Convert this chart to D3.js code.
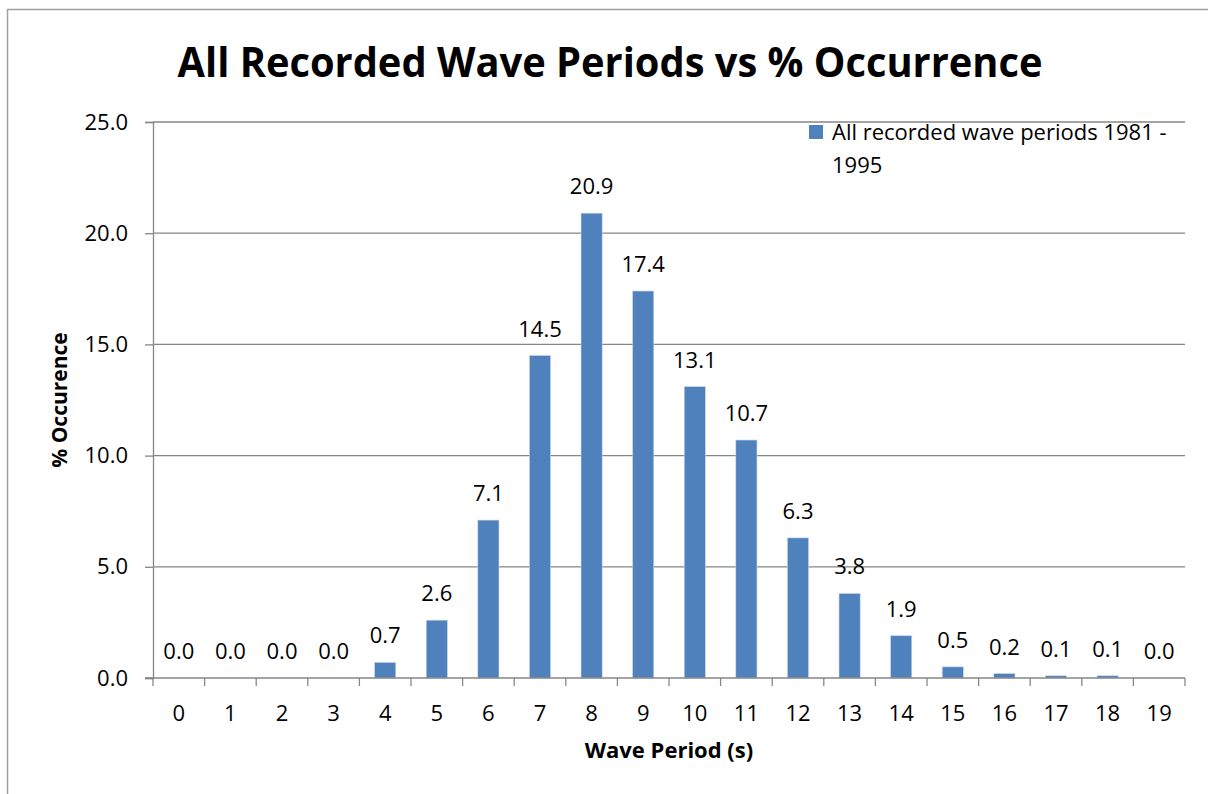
<!DOCTYPE html>
<html>
<head>
<meta charset="utf-8">
<script src="https://cdn.jsdelivr.net/npm/d3@7"></script>
<style>
  body { margin: 0; background: #fff; }
  text { font-family: "Open Sans", sans-serif; fill: #000; }
</style>
</head>
<body>
<div id="content"></div>
<script>
// Données
var periods = [0, 1, 2, 3, 4, 5, 6, 7, 8, 9, 10, 11, 12, 13, 14, 15, 16, 17, 18, 19];
var occurrence = [0.0, 0.0, 0.0, 0.0, 0.7, 2.6, 7.1, 14.5, 20.9, 17.4, 13.1, 10.7, 6.3, 3.8, 1.9, 0.5, 0.2, 0.1, 0.1, 0.0];
var yTicks = [0, 5, 10, 15, 20, 25];
var seriesName = ["All recorded wave periods 1981 -", "1995"];
var title = "All Recorded Wave Periods vs % Occurrence";

var width = 1208, height = 794;
var plotLeft = 153, plotRight = 1185, plotTop = 122, plotBottom = 678;
var barColor = "#4F81BD", axisColor = "#868686";
var fontSize = "22px";

var svg = d3.select("#content").append("svg")
    .attr("width", width)
    .attr("height", height);

// cadre extérieur
svg.append("rect")
    .attr("x", 7.5).attr("y", 9.5)
    .attr("width", 1220).attr("height", 800)
    .attr("fill", "none")
    .attr("stroke", "#a0a0a0")
    .attr("stroke-width", 1.5);

var x = d3.scaleBand()
    .domain(periods)
    .range([plotLeft, plotRight])
    .paddingInner(0.59)
    .paddingOuter(0.295);

var y = d3.scaleLinear()
    .domain([0, 25])
    .range([plotBottom, plotTop]);

// grille
svg.append("g")
  .selectAll("line")
    .data(yTicks.filter(d => d > 0))
  .join("line")
    .attr("x1", plotLeft).attr("x2", plotRight)
    .attr("y1", d => y(d)).attr("y2", d => y(d))
    .attr("stroke", axisColor)
    .attr("stroke-width", 1.3);

// axe y
var yAxis = svg.append("g")
    .attr("transform", "translate(" + plotLeft + ",0)")
    .call(d3.axisLeft(y).tickValues(yTicks).tickSize(8).tickPadding(17).tickFormat(d3.format(".1f")));
yAxis.select(".domain").attr("stroke", axisColor).attr("stroke-width", 1.3);
yAxis.selectAll(".tick line").attr("stroke", axisColor).attr("stroke-width", 1.3);
yAxis.selectAll("text")
    .style("font-family", "Open Sans")
    .style("font-size", fontSize)
    .attr("fill", "#000");

// barres
svg.append("g")
  .selectAll("rect")
    .data(periods)
  .join("rect")
    .attr("x", (d, i) => x(d))
    .attr("width", x.bandwidth())
    .attr("y", (d, i) => y(occurrence[i]))
    .attr("height", (d, i) => y(0) - y(occurrence[i]))
    .attr("fill", barColor)
    .attr("stroke", "#c9d6ea")
    .attr("stroke-width", 0.6);

// étiquettes de valeurs
svg.append("g")
  .selectAll("text")
    .data(periods)
  .join("text")
    .attr("x", d => x(d) + x.bandwidth() / 2)
    .attr("y", (d, i) => y(occurrence[i]) - 19)
    .attr("text-anchor", "middle")
    .style("font-size", fontSize)
    .text((d, i) => occurrence[i].toFixed(1));

// axe x
var step = (plotRight - plotLeft) / periods.length;
var xAxis = svg.append("g");
xAxis.append("line")
    .attr("x1", plotLeft - 8).attr("x2", plotRight)
    .attr("y1", plotBottom).attr("y2", plotBottom)
    .attr("stroke", axisColor).attr("stroke-width", 1.3);
xAxis.selectAll(".tk")
    .data(d3.range(periods.length + 1))
  .join("line")
    .attr("class", "tk")
    .attr("x1", i => plotLeft + i * step).attr("x2", i => plotLeft + i * step)
    .attr("y1", plotBottom).attr("y2", plotBottom + 8)
    .attr("stroke", axisColor).attr("stroke-width", 1.3);
xAxis.selectAll("text")
    .data(periods)
  .join("text")
    .attr("x", d => x(d) + x.bandwidth() / 2)
    .attr("y", 721)
    .attr("text-anchor", "middle")
    .style("font-size", fontSize)
    .text(d => d);

// titres
svg.append("text")
    .attr("x", 610).attr("y", 77)
    .attr("text-anchor", "middle")
    .attr("textLength", 865)
    .attr("lengthAdjust", "spacingAndGlyphs")
    .style("font-size", "41px")
    .style("font-weight", "bold")
    .text(title);

svg.append("text")
    .attr("x", (plotLeft + plotRight) / 2).attr("y", 758)
    .attr("text-anchor", "middle")
    .style("font-size", fontSize)
    .style("font-weight", "bold")
    .text("Wave Period (s)");

svg.append("text")
    .attr("transform", "translate(67," + (plotTop + plotBottom) / 2 + ") rotate(-90)")
    .attr("text-anchor", "middle")
    .style("font-size", "21px")
    .style("font-weight", "bold")
    .text("% Occurence");

// légende
svg.append("rect")
    .attr("x", 809).attr("y", 125)
    .attr("width", 14).attr("height", 14)
    .attr("fill", barColor);
svg.append("g")
  .selectAll("text")
    .data(seriesName)
  .join("text")
    .attr("x", 832)
    .attr("y", (d, i) => 140 + i * 33)
    .style("font-size", fontSize)
    .text(d => d);
</script>
</body>
</html>
